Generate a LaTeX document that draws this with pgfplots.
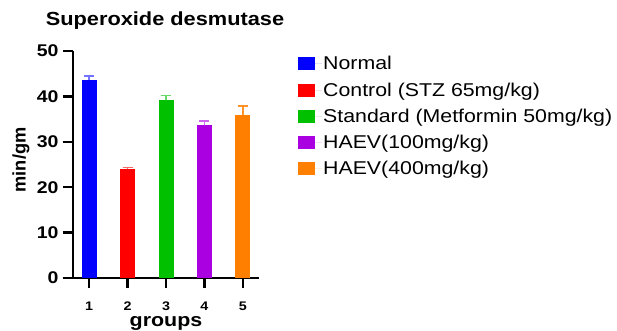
\documentclass[border=0pt]{standalone}
\usepackage{fontspec}
\setmainfont{Liberation Sans}[FakeStretch=1.15]
\newfontfamily\plainsans{Liberation Sans}
\usepackage{pgfplots}
\pgfplotsset{compat=1.18}
\definecolor{cblue}{RGB}{0,0,255}
\definecolor{cred}{RGB}{255,0,0}
\definecolor{cgreen}{RGB}{0,192,0}
\definecolor{cpurple}{RGB}{170,0,225}
\definecolor{corange}{RGB}{255,128,0}
\pgfplotsset{
  sq/.style={legend image code/.code={\fill[##1] (0bp,-6.5bp) rectangle (17bp,6.5bp); \path (0bp,0bp) -- (24bp,0bp);}},
}
\begin{document}
\begin{tikzpicture}
\useasboundingbox (0,0) rectangle (617bp,331bp);
\begin{axis}[
  at={(73bp,53bp)}, anchor=south west,
  scale only axis, width=186bp, height=227bp,
  xmin=0.58, xmax=5.42, ymin=0, ymax=50,
  axis lines*=left,
  axis line style={line width=2.5bp, black},
  xtick={1,2,3,4,5}, ytick={0,10,20,30,40,50},
  tick style={line width=2.5bp, black},
  major tick length=10bp,
  tick align=outside,
  /pgf/number format/assume math mode=true,
  yticklabel style={font=\fontsize{17}{18}\selectfont\bfseries, xshift=-1bp},
  xticklabel style={font=\fontsize{12.5}{13}\selectfont\bfseries, yshift=-10bp},
  ybar, bar width=15bp,
  clip=false,
  legend style={at={(1.1935,0.99)}, anchor=north west, draw=none, fill=none,
    font=\fontsize{18.6}{20}\selectfont, row sep=9.2bp,
    nodes={inner sep=1bp}},
  legend cell align=left,
]
\addplot[fill=cblue, draw=none, bar shift=0, sq,
  error bars/.cd, y dir=plus, y explicit,
  error bar style={cblue!55, line width=1.3bp},
  error mark options={rotate=90, mark size=5bp, cblue!55, line width=1.3bp}]
  coordinates {(1,43.6) +- (0,0.9)};
\addlegendentry{Normal}
\addplot[fill=cred, draw=none, bar shift=0, sq,
  error bars/.cd, y dir=plus, y explicit,
  error bar style={cred!60, line width=1.3bp},
  error mark options={rotate=90, mark size=5bp, cred!60, line width=1.3bp}]
  coordinates {(2,23.9) +- (0,0.5)};
\addlegendentry{Control (STZ 65mg/kg)}
\addplot[fill=cgreen, draw=none, bar shift=0, sq,
  error bars/.cd, y dir=plus, y explicit,
  error bar style={cgreen!60, line width=1.3bp},
  error mark options={rotate=90, mark size=5bp, cgreen!60, line width=1.3bp}]
  coordinates {(3,39.2) +- (0,1.0)};
\addlegendentry{Standard (Metformin 50mg/kg)}
\addplot[fill=cpurple, draw=none, bar shift=0, sq,
  error bars/.cd, y dir=plus, y explicit,
  error bar style={cpurple!60, line width=1.3bp},
  error mark options={rotate=90, mark size=5bp, cpurple!60, line width=1.3bp}]
  coordinates {(4,33.8) +- (0,0.8)};
\addlegendentry{HAEV(100mg/kg)}
\addplot[fill=corange, draw=none, bar shift=0, sq,
  error bars/.cd, y dir=plus, y explicit,
  error bar style={corange!85, line width=1.3bp},
  error mark options={rotate=90, mark size=5bp, corange!85, line width=1.3bp}]
  coordinates {(5,35.9) +- (0,2.0)};
\addlegendentry{HAEV(400mg/kg)}
\end{axis}
\node[font=\fontsize{19}{20}\selectfont\bfseries] at (165bp,310.5bp) {Superoxide desmutase};
\node[rotate=90, font=\plainsans\fontsize{18.3}{19}\selectfont\bfseries] at (21bp,171bp) {min/gm};
\node[anchor=base, font=\fontsize{18.7}{19}\selectfont\bfseries] at (166bp,4.5bp) {groups};
\end{tikzpicture}
\end{document}
